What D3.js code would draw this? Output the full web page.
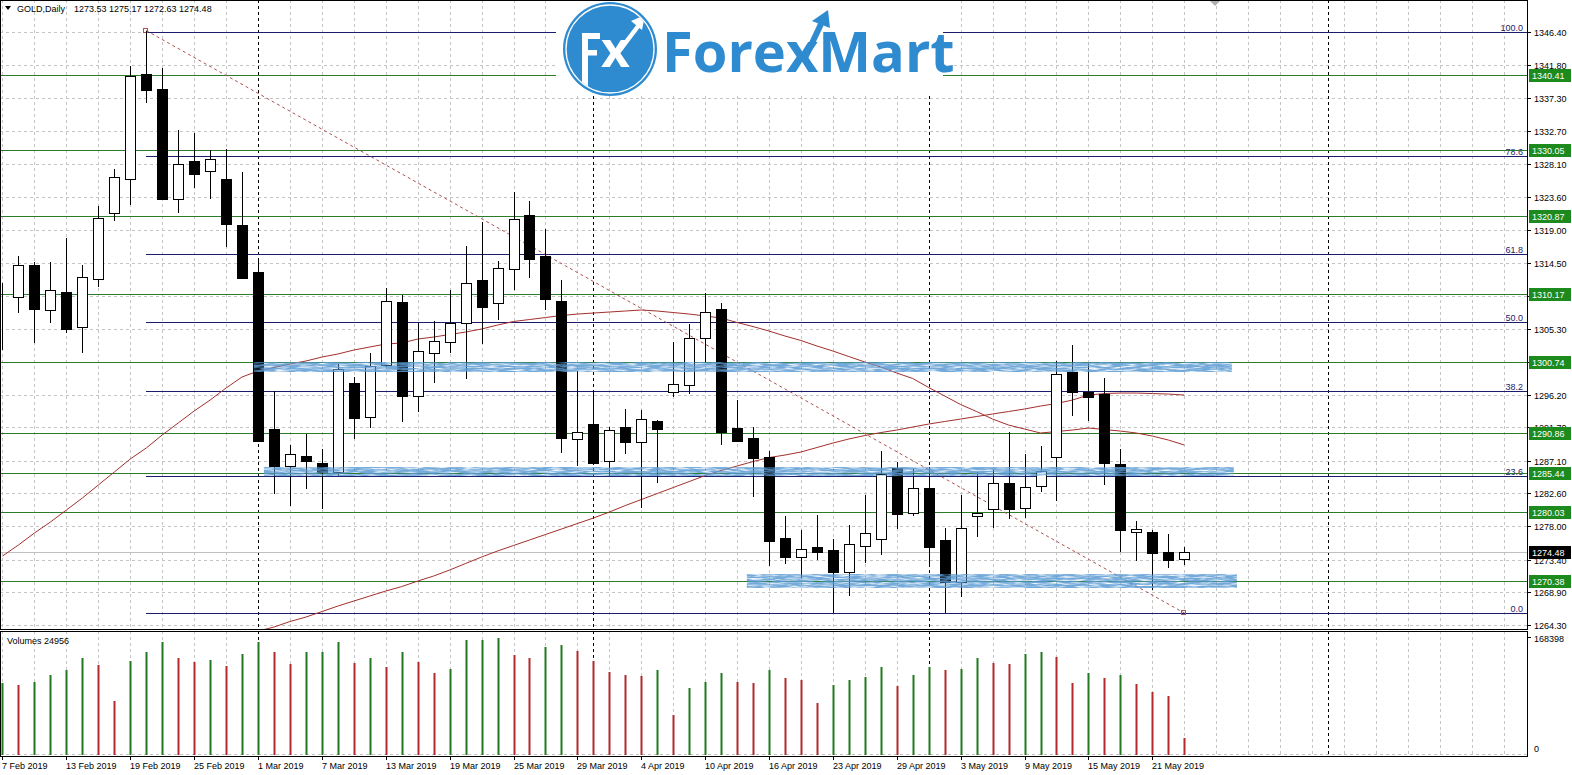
<!DOCTYPE html>
<html><head><meta charset="utf-8">
<script src="https://cdn.jsdelivr.net/npm/d3@7"></script>
<style>
html,body{margin:0;padding:0;background:#fff;overflow:hidden}
svg{display:block;font-family:"Liberation Sans",Arial,sans-serif}
</style></head><body>
<svg id="c" width="1572" height="775"></svg>
<script>
// ---------------- DATA ----------------
const opens  = [1309.55,1309.69,1314.11,1307.89,1310.38,1305.53,1312.26,1321.31,1326.02,1340.59,1338.51,1323.25,1328.55,1327.12,1326.06,1319.69,1313.19,1291.46,1286.38,1287.68,1286.71,1285.55,1297.82,1293.16,1300.32,1308.99,1295.98,1301.94,1303.46,1306.09,1312.08,1308.85,1313.56,1321.07,1315.36,1309.17,1290.03,1292.11,1287.07,1291.69,1289.70,1292.57,1296.58,1297.51,1304.01,1308.02,1291.56,1290.17,1287.54,1276.33,1273.70,1275.17,1274.71,1271.71,1275.31,1276.19,1286.02,1279.79,1283.25,1276.10,1270.33,1279.46,1280.35,1283.94,1280.48,1283.57,1287.54,1299.31,1296.62,1296.26,1286.62,1277.16,1277.16,1274.40,1273.53];
const highs  = [1311.70,1315.40,1314.61,1314.57,1317.85,1314.11,1322.32,1327.44,1341.69,1346.60,1341.38,1332.84,1332.38,1330.03,1330.17,1327.03,1315.12,1296.76,1289.25,1290.73,1288.65,1300.41,1298.70,1301.98,1310.97,1310.00,1306.09,1306.41,1310.74,1316.78,1320.11,1314.67,1324.22,1323.01,1319.14,1312.08,1299.49,1296.76,1291.78,1294.19,1294.09,1292.70,1303.50,1305.99,1310.32,1308.85,1295.47,1291.69,1288.46,1279.42,1277.48,1279.56,1276.24,1278.17,1282.33,1288.41,1286.93,1285.88,1286.24,1277.72,1282.33,1285.55,1285.79,1291.09,1288.00,1289.11,1300.91,1303.08,1300.55,1298.48,1288.65,1278.77,1277.48,1276.89,1275.17];
const lows   = [1302.40,1307.47,1303.32,1306.17,1304.70,1302.02,1311.15,1320.29,1322.46,1336.62,1323.15,1321.31,1324.85,1323.25,1316.69,1312.20,1289.66,1282.46,1280.84,1283.16,1280.39,1284.96,1290.08,1291.56,1300.04,1292.47,1293.77,1297.87,1302.02,1298.34,1303.18,1306.54,1310.70,1312.40,1307.93,1288.18,1286.38,1286.76,1285.00,1288.00,1280.57,1284.03,1295.93,1296.26,1300.63,1289.25,1289.80,1282.09,1272.54,1272.78,1270.80,1273.33,1265.95,1268.39,1272.96,1274.02,1277.58,1279.42,1272.40,1265.95,1268.25,1276.55,1277.80,1279.00,1279.18,1282.78,1281.54,1293.26,1292.61,1283.71,1274.48,1273.23,1269.18,1272.18,1272.63];
const closes = [1309.60,1314.11,1308.02,1310.65,1305.34,1312.45,1320.62,1326.29,1340.35,1338.37,1323.29,1328.13,1326.79,1328.78,1319.79,1312.31,1289.84,1286.34,1287.96,1287.07,1285.55,1299.72,1292.98,1300.14,1309.13,1296.07,1302.21,1303.60,1306.13,1311.62,1308.38,1313.70,1320.48,1315.03,1309.49,1290.26,1291.00,1286.80,1291.28,1289.70,1292.80,1291.50,1297.65,1304.01,1307.69,1291.09,1289.84,1287.49,1276.00,1273.79,1274.81,1274.48,1271.71,1275.50,1277.03,1285.23,1279.66,1283.34,1275.17,1270.33,1277.80,1279.88,1283.94,1280.35,1283.47,1285.69,1299.03,1296.54,1295.93,1286.71,1277.48,1277.58,1274.34,1273.33,1274.48];
const volumes = [103198,100751,105069,115144,122341,139612,129537,77722,135726,148248,162641,139612,133855,136734,128098,145369,162641,148248,130976,148248,148500,162641,132416,139612,126658,148248,133855,118023,123780,165520,165800,168398,144362,139612,155444,158323,149687,135294,119462,115144,113705,122341,57572,96433,105069,118023,105069,103630,122341,110826,107948,74844,100751,107948,112265,126658,99312,115144,127090,122341,123780,139612,132416,130976,145369,148248,141051,103630,118023,110826,115144,102190,90676,84919,24956];
const ma1 = [1273.88,1275.41,1277.07,1278.59,1280.25,1281.91,1283.71,1285.51,1287.31,1288.83,1290.63,1292.29,1293.95,1295.47,1297.13,1298.66,1299.49,1299.97,1300.45,1300.87,1301.42,1301.84,1302.39,1302.81,1303.22,1303.36,1303.91,1304.19,1304.54,1304.88,1305.30,1305.85,1306.34,1306.61,1306.89,1307.17,1307.37,1307.51,1307.65,1307.79,1307.93,1307.79,1307.58,1307.37,1307.10,1306.82,1306.20,1305.64,1305.02,1304.33,1303.71,1302.95,1302.25,1301.49,1300.73,1300.04,1299.21,1298.45,1297.20,1296.03,1294.85,1293.88,1292.84,1292.01,1291.46,1290.91,1291.11,1291.32,1291.60,1291.39,1291.18,1290.91,1290.49,1289.94,1289.25];
const ma2 = [null,null,null,null,null,null,null,null,null,null,null,null,null,null,null,null,1263.50,1264.06,1264.82,1265.44,1266.20,1266.96,1267.66,1268.35,1269.04,1269.66,1270.42,1271.12,1271.95,1272.85,1273.75,1274.58,1275.34,1276.10,1276.86,1277.62,1278.38,1279.14,1279.97,1280.87,1281.70,1282.53,1283.36,1284.19,1285.02,1285.72,1286.34,1286.96,1287.51,1287.86,1288.28,1288.90,1289.52,1290.08,1290.56,1290.97,1291.32,1291.74,1292.15,1292.50,1292.84,1293.19,1293.54,1293.88,1294.23,1294.64,1294.99,1295.47,1296.16,1296.37,1296.44,1296.44,1296.37,1296.30,1296.16];
const priceTicks = [1346.40,1341.80,1337.30,1332.70,1328.10,1323.60,1319.00,1314.50,1309.90,1305.30,1300.70,1296.20,1291.70,1287.10,1282.60,1278.00,1273.40,1268.90,1264.30];
const dateTickIdx = [0,4,8,12,16,20,24,28,32,36,40,44,48,52,56,60,64,68,72];
const dateTickLabels = ["7 Feb 2019","13 Feb 2019","19 Feb 2019","25 Feb 2019","1 Mar 2019","7 Mar 2019","13 Mar 2019","19 Mar 2019","25 Mar 2019","29 Mar 2019","4 Apr 2019","10 Apr 2019","16 Apr 2019","23 Apr 2019","29 Apr 2019","3 May 2019","9 May 2019","15 May 2019","21 May 2019"];
const separatorIdx = [16,37,58,83];
const levels = [1340.41,1330.05,1320.87,1310.17,1300.74,1290.86,1285.44,1280.03,1270.38];
const fibRatios = [100.0,78.6,61.8,50.0,38.2,23.6,0.0];
const fibHigh = 1346.45, fibLow = 1266.0, fibStartIdx = 9;
const trendIdx = [9,74], trendPrice = [1346.6,1266.0];
const zoneStart = [15.74,16.37,46.61], zoneEnd = [76.98,77.1,77.3];
const zoneHigh = [1300.73,1286.2,1271.39], zoneLow = [1299.35,1284.95,1269.46];
const lastPrice = 1274.48;
const symbolTitle = "GOLD,Daily";
const ohlcText = "1273.53 1275.17 1272.63 1274.48";
const volMax = 168398;
const volTitle = "Volumes 24956";

// ---------------- LAYOUT ----------------
const svg = d3.select("#c");
const R = 1527, mainB = 629, volT = 631, volB = 756;
const x = d3.scaleLinear().domain([16,72]).range([258,1152.3]);
const y = d3.scaleLinear().domain([1264.3,1346.4]).range([625.3,32]);
const vy = d3.scaleLinear().domain([0,volMax]).range([755,638]);
const px = i => Math.round(x(i));
const py = p => Math.round(y(p)) + 0.5;

const defs = svg.append("defs");
defs.append("clipPath").attr("id","mainclip").append("rect").attr("x",1).attr("y",1).attr("width",R-1).attr("height",mainB-1);
defs.append("clipPath").attr("id","volclip").append("rect").attr("x",1).attr("y",volT+1).attr("width",R-1).attr("height",volB-volT-1);
const f = defs.append("filter").attr("id","tex").attr("x",0).attr("y",0).attr("width",1).attr("height",1)
  .attr("color-interpolation-filters","sRGB");
f.append("feTurbulence").attr("type","fractalNoise").attr("baseFrequency","0.08 0.6").attr("numOctaves",2).attr("seed",7).attr("result","n");
f.append("feColorMatrix").attr("in","n").attr("type","matrix")
  .attr("values","0 0 0 0 0.36  0 0 0 0 0.61  0 0 0 0 0.83  2.4 0 0 0 -0.4").attr("result","c");
f.append("feComposite").attr("in","c").attr("in2","SourceGraphic").attr("operator","in");

svg.append("rect").attr("width",1572).attr("height",775).attr("fill","#fff");

const main = svg.append("g").attr("clip-path","url(#mainclip)");
const vol = svg.append("g").attr("clip-path","url(#volclip)");

// vertical grid
const gridIdx = d3.range(0,96,2);
[[main,0,mainB],[vol,volT,volB]].forEach(([g,t,b])=>{
  g.selectAll(null).data(gridIdx).enter().append("line")
    .attr("x1",d=>px(d)+0.5).attr("x2",d=>px(d)+0.5).attr("y1",t).attr("y2",b)
    .attr("stroke","#c4c4c4").attr("stroke-dasharray","3,3");
});
// horizontal grid
main.selectAll(null).data(priceTicks).enter().append("line")
  .attr("x1",0).attr("x2",R).attr("y1",d=>py(d)).attr("y2",d=>py(d))
  .attr("stroke","#c4c4c4").attr("stroke-dasharray","3,3");
vol.append("line").attr("x1",0).attr("x2",R).attr("y1",754.5).attr("y2",754.5)
  .attr("stroke","#c4c4c4").attr("stroke-dasharray","3,3");

// separators
[[main,0,mainB],[vol,volT,volB]].forEach(([g,t,b])=>{
  g.selectAll(null).data(separatorIdx).enter().append("line")
    .attr("x1",d=>px(d)+0.5).attr("x2",d=>px(d)+0.5).attr("y1",t).attr("y2",b)
    .attr("stroke","#000").attr("stroke-dasharray","3,3");
});

// current price line
main.append("line").attr("x1",0).attr("x2",R).attr("y1",py(lastPrice)).attr("y2",py(lastPrice)).attr("stroke","#c0c0c0");

// fib lines
const fibPrice = r => fibLow + (fibHigh-fibLow)*r/100;
main.selectAll(null).data(fibRatios).enter().append("line")
  .attr("x1",px(fibStartIdx)).attr("x2",R).attr("y1",d=>py(fibPrice(d))).attr("y2",d=>py(fibPrice(d)))
  .attr("stroke","#1c1c6e");
main.selectAll(null).data(fibRatios).enter().append("text")
  .attr("x",R-4).attr("y",d=>py(fibPrice(d))-2).attr("text-anchor","end")
  .attr("font-size",9).attr("fill","#1c1c6e").text(d=>d.toFixed(1));

// green levels
main.selectAll(null).data(levels).enter().append("line")
  .attr("x1",0).attr("x2",R).attr("y1",d=>py(d)).attr("y2",d=>py(d))
  .attr("stroke","#2b7d2b");

// moving averages
const line = d3.line().defined(d=>d[1]!=null).x(d=>x(d[0])).y(d=>y(d[1]));
main.append("path").attr("d",line(ma1.map((v,i)=>[i,v]))).attr("fill","none").attr("stroke","#a3302c").attr("stroke-width",1);
main.append("path").attr("d",line(ma2.map((v,i)=>[i,v]))).attr("fill","none").attr("stroke","#a3302c").attr("stroke-width",1);

// trend line
main.append("line").attr("x1",x(trendIdx[0])).attr("y1",y(trendPrice[0])).attr("x2",x(trendIdx[1])).attr("y2",y(trendPrice[1]))
  .attr("stroke","#b0504c").attr("stroke-dasharray","3,3");
trendIdx.forEach((t,k)=>{
  main.append("rect").attr("x",px(t)-2.5).attr("y",Math.round(y(trendPrice[k]))-2.5).attr("width",4).attr("height",4)
    .attr("fill","none").attr("stroke","#b0504c");
});

// candles
const idx = d3.range(opens.length);
main.selectAll(null).data(idx).enter().append("line")
  .attr("x1",i=>px(i)+0.5).attr("x2",i=>px(i)+0.5)
  .attr("y1",i=>Math.round(y(highs[i]))).attr("y2",i=>Math.round(y(lows[i])))
  .attr("stroke","#000");
main.selectAll(null).data(idx).enter().append("rect")
  .attr("x",i=>px(i)-4.5)
  .attr("y",i=>Math.round(y(Math.max(opens[i],closes[i])))+0.5)
  .attr("width",10)
  .attr("height",i=>Math.max(0,Math.round(y(Math.min(opens[i],closes[i])))-Math.round(y(Math.max(opens[i],closes[i])))))
  .attr("fill",i=>closes[i]>=opens[i]?"#fff":"#000").attr("stroke","#000");

// zones (highlighter)
main.selectAll(null).data(zoneStart).enter().append("rect")
  .attr("x",(d,k)=>x(zoneStart[k])).attr("width",(d,k)=>x(zoneEnd[k])-x(zoneStart[k]))
  .attr("y",(d,k)=>y(zoneHigh[k])).attr("height",(d,k)=>y(zoneLow[k])-y(zoneHigh[k]))
  .attr("fill","#4e93cc").attr("filter","url(#tex)").attr("opacity",0.85);

// volumes
vol.selectAll(null).data(idx).enter().append("rect")
  .attr("x",i=>px(i)-0.5).attr("width",2)
  .attr("y",i=>Math.round(vy(volumes[i]))).attr("height",i=>755-Math.round(vy(volumes[i])))
  .attr("fill",i=>(i===0||volumes[i]>=volumes[i-1])?"#217a21":"#b22a2a");

// logo
const logo = svg.append("g");
logo.append("rect").attr("x",556).attr("y",1).attr("width",387).attr("height",95).attr("fill","#fff");
logo.append("circle").attr("cx",610).attr("cy",49).attr("r",47).attr("fill","#2f8bd0");
logo.append("circle").attr("cx",610).attr("cy",49).attr("r",44).attr("fill","none").attr("stroke","#fff").attr("stroke-width",1.3);
defs.append("clipPath").attr("id","incircle").append("circle").attr("cx",610).attr("cy",49).attr("r",43.5);
const fx = logo.append("g").attr("clip-path","url(#incircle)").attr("fill","#fff");
fx.append("rect").attr("x",582).attr("y",33).attr("width",6).attr("height",62);
fx.append("rect").attr("x",582).attr("y",33).attr("width",18).attr("height",6);
fx.append("rect").attr("x",582).attr("y",50).attr("width",15).attr("height",5.5);
fx.append("text").attr("x",601).attr("y",67).attr("font-family","'Open Sans'").attr("font-weight",700).attr("font-size",50).text("x");
fx.append("line").attr("x1",620).attr("y1",50).attr("x2",639).attr("y2",25).attr("stroke","#fff").attr("stroke-width",4.5);
fx.append("polygon").attr("points","645,15 631,21 642,30");
logo.append("text").attr("x",662).attr("y",72).attr("font-family","'Open Sans'").attr("font-weight",700).attr("font-size",56)
  .attr("fill","#2f8bd0").text("ForexMart");
logo.append("line").attr("x1",805).attr("y1",58).attr("x2",821).attr("y2",24).attr("stroke","#2f8bd0").attr("stroke-width",6);
logo.append("polygon").attr("points","828,10 812,21 830,28").attr("fill","#2f8bd0");

// borders
svg.append("rect").attr("x",0.5).attr("y",0.5).attr("width",R).attr("height",mainB).attr("fill","none").attr("stroke","#000");
svg.append("rect").attr("x",0.5).attr("y",volT+0.5).attr("width",R).attr("height",volB-volT).attr("fill","none").attr("stroke","#000");

// price axis
const ax = svg.append("g");
ax.selectAll(null).data(priceTicks).enter().append("line")
  .attr("x1",R).attr("x2",R+4).attr("y1",d=>py(d)).attr("y2",d=>py(d)).attr("stroke","#000");
ax.selectAll(null).data(priceTicks).enter().append("text")
  .attr("x",R+7).attr("y",d=>py(d)+3.5).attr("font-size",9).attr("fill","#000").text(d=>d.toFixed(2));
// level labels
ax.selectAll(null).data(levels).enter().append("rect")
  .attr("x",R+2).attr("y",d=>py(d)-6.5).attr("width",42).attr("height",13).attr("fill","#1d8a1d");
ax.selectAll(null).data(levels).enter().append("text")
  .attr("x",R+5).attr("y",d=>py(d)+3.5).attr("font-size",9).attr("fill","#fff").text(d=>d.toFixed(2));
ax.append("rect").attr("x",R+2).attr("y",py(lastPrice)-6.5).attr("width",42).attr("height",13).attr("fill","#000");
ax.append("text").attr("x",R+5).attr("y",py(lastPrice)+3.5).attr("font-size",9).attr("fill","#fff").text(lastPrice.toFixed(2));

// volume axis
ax.append("text").attr("x",R+7).attr("y",642).attr("font-size",9).text(String(volMax));
ax.append("text").attr("x",R+7).attr("y",752).attr("font-size",9).text("0");
ax.append("line").attr("x1",R).attr("x2",R+4).attr("y1",637.5).attr("y2",637.5).attr("stroke","#000");

// date axis
ax.selectAll(null).data(dateTickIdx).enter().append("line")
  .attr("x1",i=>px(i)+0.5).attr("x2",i=>px(i)+0.5).attr("y1",volB).attr("y2",volB+4).attr("stroke","#000");
ax.selectAll(null).data(dateTickIdx).enter().append("text")
  .attr("x",(i,k)=>Math.max(1,px(i))).attr("y",769).attr("font-size",9).attr("fill","#000").text((i,k)=>dateTickLabels[k]);

// header
svg.append("polygon").attr("points","5,6 11,6 8,10").attr("fill","#000");
svg.append("text").attr("x",17).attr("y",12).attr("font-size",9).text(symbolTitle);
svg.append("text").attr("x",74).attr("y",12).attr("font-size",9).text(ohlcText);
svg.append("text").attr("x",7).attr("y",644).attr("font-size",9).text(volTitle);
svg.append("polygon").attr("points","1210,1 1220,1 1215,6").attr("fill","#b0b0b0");
</script>
</body></html>
